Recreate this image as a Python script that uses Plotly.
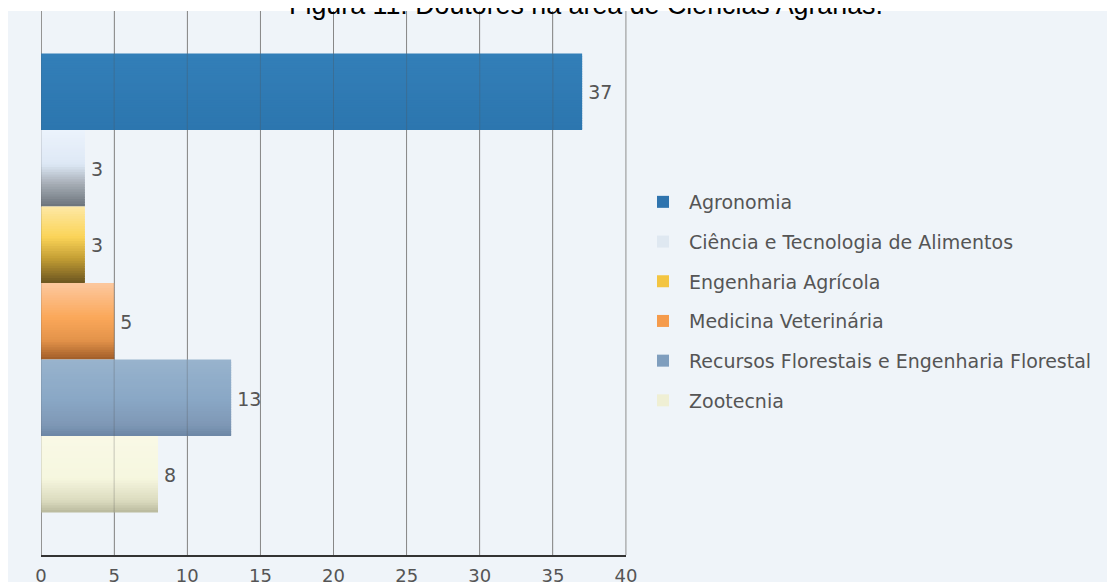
import plotly.graph_objects as go

# ---- data ----
categories = ["Agronomia", "Ciência e Tecnologia de Alimentos", "Engenharia Agrícola",
              "Medicina Veterinária", "Recursos Florestais e Engenharia Florestal", "Zootecnia"]
values = [37, 3, 3, 5, 13, 8]
x_ticks = [0, 5, 10, 15, 20, 25, 30, 35, 40]
title_text = "Figura 11: Doutores na área de Ciências Agrárias."

# ---- style ----
legend_colors = ["#2f74ae", "#dfe8f1", "#f3c542", "#f59b4c", "#7f9ebe", "#efefd4"]
# vertical gradient stops (position 0 = top of bar, 1 = bottom)
gradients = [
    [(0, "#337fb8"), (1, "#2c76af")],
    [(0, "#ecf3fc"), (0.45, "#dde8f5"), (0.72, "#a3aab2"), (1, "#6b737b")],
    [(0, "#fde8a5"), (0.4, "#fbd458"), (0.68, "#c49e34"), (1, "#6b5520")],
    [(0, "#fcc8a0"), (0.45, "#fba85a"), (0.75, "#e3934a"), (1, "#a05d28")],
    [(0, "#98b3cd"), (0.5, "#8aa8c6"), (0.85, "#7f98b6"), (1, "#6c86a5")],
    [(0, "#f9f9e6"), (0.55, "#f6f7df"), (0.85, "#dadabe"), (1, "#b8b89c")],
]
N_STRIPS = 31
BARGAP = 0.156
panel = "#eff4f9"
grid_col = "#a0a0a0"
grid_over = "rgba(80,80,80,0.3)"
txt_col = "#555555"
font_fam = "DejaVu Sans"


def hex2rgb(h):
    h = h.lstrip("#")
    return tuple(int(h[i:i + 2], 16) for i in (0, 2, 4))


def color_at(stops, t):
    for (p0, c0), (p1, c1) in zip(stops[:-1], stops[1:]):
        if p0 <= t <= p1:
            f = 0 if p1 == p0 else (t - p0) / (p1 - p0)
            a, b = hex2rgb(c0), hex2rgb(c1)
            return "rgb(%d,%d,%d)" % tuple(round(a[j] + (b[j] - a[j]) * f) for j in range(3))
    return stops[-1][1]


# page is offset by the browser's 8px body margin
W, H = 1107, 574
L, R, T, B = 33, 489, 3, 27
pw, ph = W - L - R, H - T - B

fig = go.Figure()
slot = (1 - BARGAP) / len(categories)
start = -(1 - BARGAP) / 2
strip = slot / N_STRIPS
for i, (name, v) in enumerate(zip(categories, values)):
    for k in range(N_STRIPS):
        t = (k + 0.5) / N_STRIPS
        is_mid = k == N_STRIPS // 2
        last = k == N_STRIPS - 1
        fig.add_trace(go.Bar(
            y=[0], x=[v], orientation="h",
            offset=start + i * slot + k * strip,
            width=strip * (1.0 if last else 1.6),
            marker=dict(color=color_at(gradients[i], t), line=dict(width=0)),
            text=[" " + str(v)] if is_mid else None,
            textposition="outside" if is_mid else "none",
            constraintext="none", cliponaxis=False,
            textfont=dict(family=font_fam, size=19, color=txt_col),
            showlegend=False, hoverinfo="skip",
        ))
    # legend entry
    fig.add_trace(go.Bar(
        y=[None], x=[None], orientation="h", name=name,
        marker=dict(color=legend_colors[i], line=dict(width=0)),
        legendgroup=name, showlegend=True,
    ))

shapes = [dict(type="rect", xref="paper", yref="paper",
               x0=-L / pw, x1=(W - L) / pw, y0=-B / ph, y1=1,
               fillcolor=panel, line=dict(width=0), layer="below"),
          dict(type="line", xref="paper", yref="paper", x0=1, x1=1, y0=0, y1=1,
               line=dict(color=grid_col, width=1), layer="below")]
# grid lines seen through the semi-transparent bars
for t in x_ticks:
    shapes.append(dict(type="line", xref="x", yref="paper", x0=t, x1=t, y0=0, y1=1,
                       line=dict(color=grid_over, width=1), layer="above"))

fig.update_layout(
    width=W, height=H,
    margin=dict(l=L, r=R, t=T, b=B, autoexpand=False),
    paper_bgcolor="white", plot_bgcolor=panel,
    barmode="overlay",
    legend=dict(x=(637 - 8 - L) / pw, xanchor="left", y=0.466, yanchor="middle",
                font=dict(family=font_fam, size=19, color=txt_col),
                tracegroupgap=12, itemwidth=42, bgcolor="rgba(0,0,0,0)"),
    title=dict(text=title_text, x=578 / W, xanchor="center", xref="container",
               y=1 - 6 / H, yanchor="bottom", yref="container",
               font=dict(family="Liberation Sans, Arial", size=26.8, color="black")),
    xaxis=dict(range=[0, 40], tickvals=x_ticks, ticktext=[str(t) for t in x_ticks],
               showgrid=True, gridcolor=grid_col, gridwidth=1,
               zeroline=True, zerolinecolor=grid_col, zerolinewidth=1,
               showline=True, linecolor="#333333", linewidth=2, layer="above traces",
               ticks="", ticklabelstandoff=3, automargin=False,
               tickfont=dict(family=font_fam, size=18, color=txt_col),
               fixedrange=True),
    yaxis=dict(range=[0.5, -0.5], showticklabels=False, showgrid=False, zeroline=False,
               showline=False, ticks="", automargin=False, fixedrange=True),
    shapes=shapes,
)

fig.write_html("out.html")
